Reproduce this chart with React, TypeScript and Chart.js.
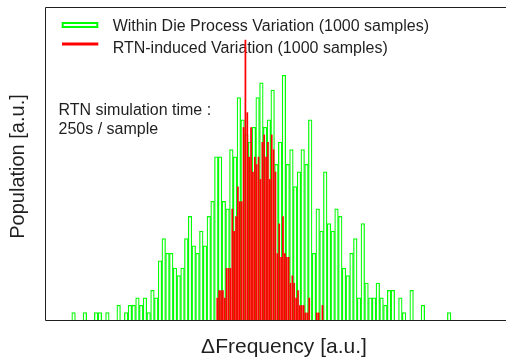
import React, { useEffect, useRef } from 'react';
import { Chart, registerables } from 'chart.js';

Chart.register(...registerables);

// ---- data (x in a.u.: one green bin = 1 a.u.) ----
const greenBinStart = 0;
const greenBinWidth = 1;
const greenCounts = [
  1, 0, 0, 1, 0, 0, 1, 1, 0, 1, 0, 0, 2, 0, 1, 2, 2, 3, 2, 3, 1, 4, 3, 8, 11,
  9, 9, 7, 6, 7, 11, 14, 10, 9, 12, 10, 14, 16, 22, 22, 16, 15, 23, 22, 30, 27, 25, 24, 26,
  30, 32, 26, 27, 31, 21, 24, 33, 21, 23, 18, 20, 23, 21, 27,
  9, 15, 12, 20, 13, 12, 15, 14, 7, 6, 9, 11,
  3, 13, 5, 3, 3, 5, 3, 2, 4, 4, 0, 3, 1, 0, 4, 0, 0, 2, 0, 0, 0, 0, 0, 0, 1,
];

const redBinStart = 38.5;
const redBinWidth = 0.5;
const redCounts = [
  3, 4, 4, 4, 3, 7, 7, 7, 15, 12, 14, 18, 16, 16,
  26, 37.8, 28, 22, 26, 20, 22, 21, 22, 19,
  24, 25, 22, 24, 19, 25, 23, 20,
  9, 13, 8.5, 14, 9, 8.5, 8.5,
  5, 6, 5, 3, 4, 2, 2, 2, 1, 1, 3,
  0, 0, 0, 1, 1, 0, 2,
];

const xMin = -7.11;
const xMax = 115.63;
const yMin = 0;
const yMax = 42.2;

const legendLabels = [
  'Within Die Process Variation (1000 samples)',
  'RTN-induced Variation (1000 samples)',
];
const noteLines = ['RTN simulation time :', '250s / sample'];
const xTitle = 'ΔFrequency [a.u.]';
const yTitle = 'Population [a.u.]';

const GREEN = '#00ff00';
const RED = '#ff0000';
const INK = '#1f1f1f';
const FONT = '"Liberation Sans", Arial, Helvetica, sans-serif';

const decorPlugin = {
  id: 'decor',
  beforeDatasetsDraw(chart: any) {
    const { ctx, chartArea: a } = chart;
    ctx.save();
    // legend
    ctx.strokeStyle = GREEN;
    ctx.lineWidth = 2;
    ctx.strokeRect(a.left + 17.7, a.top + 16, 34.6, 4);
    ctx.strokeStyle = RED;
    ctx.lineWidth = 3;
    ctx.beginPath();
    ctx.moveTo(a.left + 17, a.top + 37);
    ctx.lineTo(a.left + 53.3, a.top + 37);
    ctx.stroke();
    ctx.fillStyle = INK;
    ctx.font = `16px ${FONT}`;
    ctx.textAlign = 'left';
    ctx.textBaseline = 'alphabetic';
    ctx.fillText(legendLabels[0], a.left + 67.7, a.top + 24.3);
    ctx.fillText(legendLabels[1], a.left + 67.7, a.top + 46);
    // note
    ctx.fillText(noteLines[0], a.left + 13.5, a.top + 107.5);
    ctx.fillText(noteLines[1], a.left + 13.5, a.top + 127);
    ctx.restore();
  },
  afterDraw(chart: any) {
    const { ctx, chartArea: a } = chart;
    ctx.save();
    ctx.strokeStyle = INK;
    ctx.lineWidth = 1;
    ctx.beginPath();
    ctx.moveTo(a.right + 2, a.top + 0.5);
    ctx.lineTo(a.left + 0.5, a.top + 0.5);
    ctx.lineTo(a.left + 0.5, a.bottom + 0.5);
    ctx.lineTo(a.right + 2, a.bottom + 0.5);
    ctx.stroke();
    ctx.fillStyle = INK;
    // x title
    ctx.font = `21px ${FONT}`;
    ctx.textAlign = 'center';
    ctx.textBaseline = 'alphabetic';
    ctx.fillText(xTitle, 284, a.bottom + 33);
    // y title
    ctx.font = `20px ${FONT}`;
    ctx.translate(18, (a.top + a.bottom) / 2 + 3);
    ctx.rotate(-Math.PI / 2);
    ctx.textBaseline = 'middle';
    ctx.fillText(yTitle, 0, 0);
    ctx.restore();
  },
};

export default function App() {
  const ref = useRef<HTMLCanvasElement>(null);
  useEffect(() => {
    document.body.style.margin = '0';
    const canvas = ref.current;
    if (!canvas) return;
    const greenData = greenCounts.map((v, i) => ({
      x: greenBinStart + (i + 0.5) * greenBinWidth,
      y: v === 0 ? null : v,
    }));
    const redData = redCounts.map((v, j) => ({
      x: redBinStart + (j + 0.5) * redBinWidth,
      y: v === 0 ? null : v,
    }));
    const chart = new Chart(canvas, {
      type: 'bar',
      data: {
        datasets: [
          {
            label: legendLabels[1],
            data: redData as any,
            xAxisID: 'x2',
            backgroundColor: RED,
            borderWidth: 0,
            inflateAmount: 0,
            barPercentage: 0.92,
            categoryPercentage: 1,
            grouped: false,
            order: 0,
          } as any,
          {
            label: legendLabels[0],
            data: greenData as any,
            xAxisID: 'x',
            backgroundColor: 'rgba(0,0,0,0)',
            borderColor: GREEN,
            borderWidth: 0.75,
            inflateAmount: 0.25,
            barPercentage: 1,
            categoryPercentage: 1,
            grouped: false,
            order: 1,
          } as any,
        ],
      },
      options: {
        animation: false,
        responsive: false,
        devicePixelRatio: 1,
        layout: { padding: { left: 45, top: 7, right: 0, bottom: 39 } },
        plugins: {
          legend: { display: false },
          tooltip: { enabled: false },
        },
        scales: {
          x: { type: 'linear', display: false, min: xMin, max: xMax, offset: false },
          x2: { type: 'linear', axis: 'x', position: 'bottom', display: false, min: xMin, max: xMax, offset: false },
          y: { type: 'linear', display: false, min: yMin, max: yMax },
        } as any,
      },
      plugins: [decorPlugin],
    });
    return () => chart.destroy();
  }, []);
  return (
    <div style={{ position: 'fixed', left: 0, top: 0, width: 506, height: 359, background: '#fff' }}>
      <canvas ref={ref} width={506} height={359} style={{ width: 506, height: 359, display: 'block' }} />
    </div>
  );
}
